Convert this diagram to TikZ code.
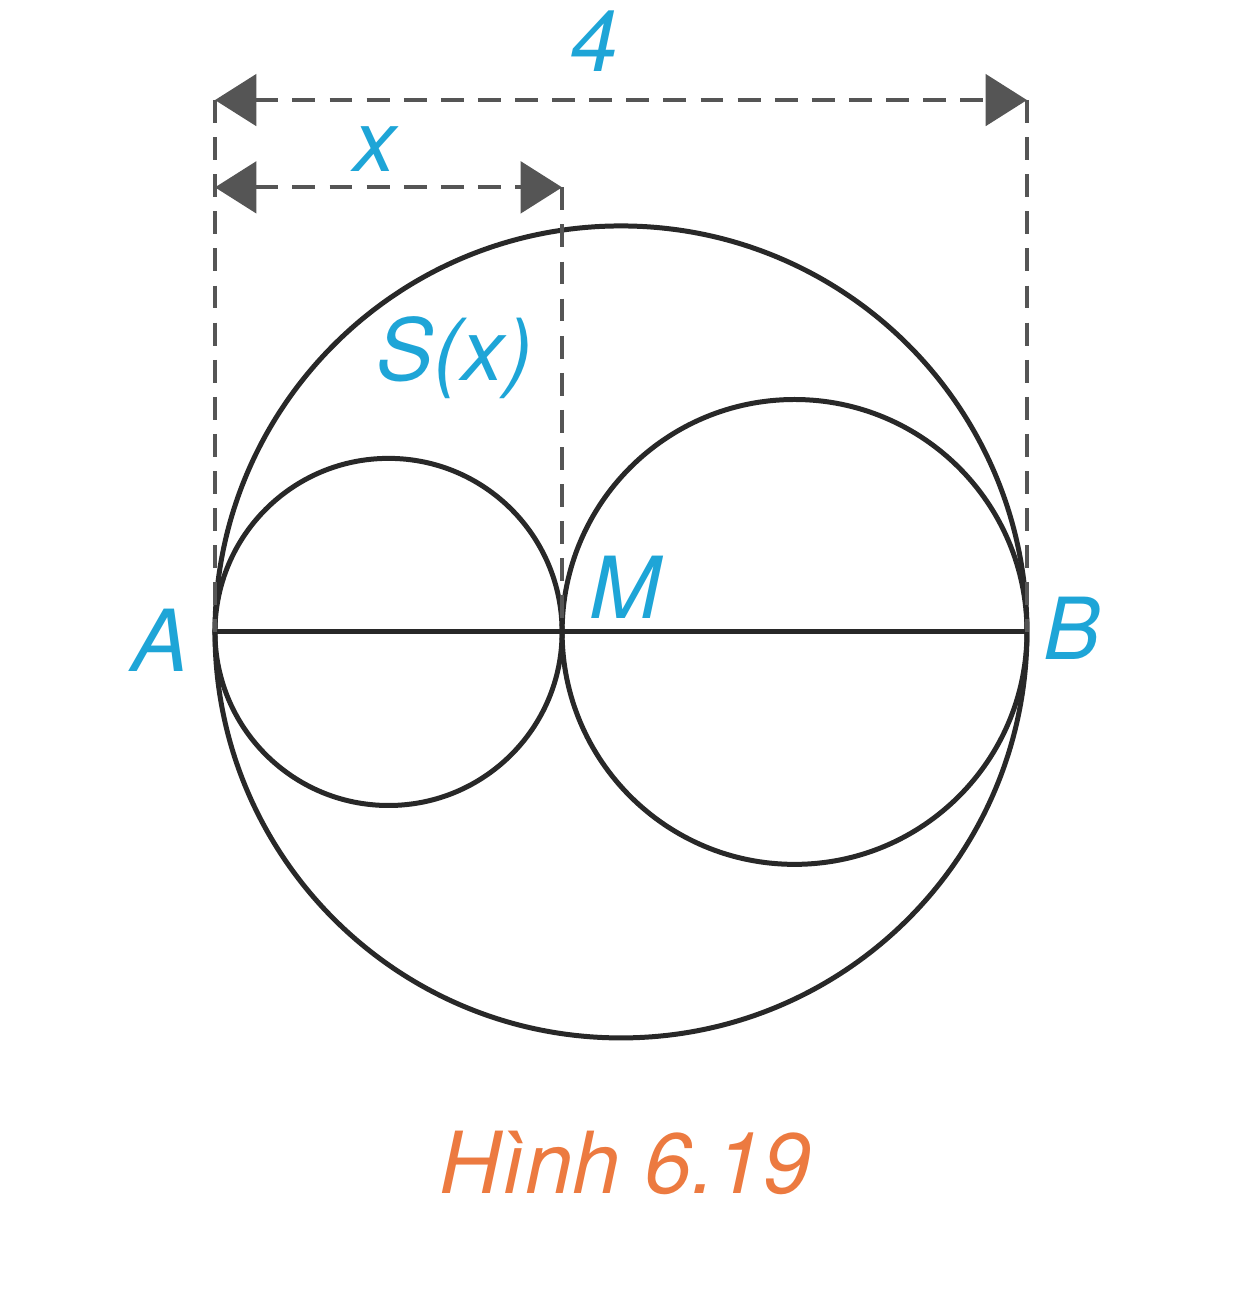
\documentclass[tikz,border=0pt]{standalone}
\usepackage{fontspec}
\setmainfont{TeX Gyre Heros}
\usepackage{tikz}
\usetikzlibrary{calc}
\usetikzlibrary{arrows.meta}
\definecolor{labelblue}{RGB}{30,165,215}
\definecolor{captionorange}{RGB}{236,122,64}
\definecolor{linegray}{RGB}{40,40,40}
\definecolor{dashgray}{RGB}{85,85,85}
\newcommand{\ptlabel}[4]{\node[text=labelblue,inner sep=0pt,font=\fontsize{12}{14}\selectfont\itshape] (#1) at ( #2 , #3 ) {#4};}
\newcommand{\dimline}[2]{\draw[dashgray,line width=0.55pt,dash pattern=on 3.2pt off 2pt,{Triangle[length=5.8pt,width=7.2pt]}-{Triangle[length=5.8pt,width=7.2pt]}] (#1) -- (#2);}

\begin{document}
\begin{tikzpicture}
        \useasboundingbox (-1.059,-3.291) rectangle (5.099,3.113);
        % points
        \coordinate (A) at (0,0);
        \coordinate (B) at (4,0);
        \coordinate (M) at (1.71,0);
        \coordinate (A4) at (0,2.62);
        \coordinate (B4) at (4,2.62);
        \coordinate (Ax) at (0,2.19);
        \coordinate (Mx) at (1.71,2.19);

        % circles
        \draw[linegray,line width=0.7pt] ($(A)!0.5!(B)$) circle (2);
        \draw[linegray,line width=0.7pt] ($(A)!0.5!(M)$) circle (0.855);
        \draw[linegray,line width=0.7pt] ($(M)!0.5!(B)$) circle (1.145);
        \draw[linegray,line width=0.7pt] (A) -- (B);

        % guide lines
        \draw[dashgray,line width=0.55pt,dash pattern=on 3.2pt off 2pt] (A4) -- (A);
        \draw[dashgray,line width=0.55pt,dash pattern=on 3.2pt off 2pt] (B4) -- (B);
        \draw[dashgray,line width=0.55pt,dash pattern=on 3.2pt off 2pt] (Mx) -- (M);

        % dimensions
        \dimline{A4}{B4}
        \dimline{Ax}{Mx}

        \ptlabel{lfour}{1.87}{2.91}{4}
        \ptlabel{lx}{0.79}{2.38}{x}
        \ptlabel{lS}{1.18}{1.35}{S(x)}
        \ptlabel{lM}{2.02}{0.22}{M}
        \ptlabel{lA}{-0.27}{-0.04}{A}
        \ptlabel{lB}{4.22}{0.02}{B}

        \node[text=captionorange,inner sep=0pt,font=\fontsize{12}{14}\selectfont\itshape] (caption) at (2.02,-2.616) {Hình 6.19};
    \end{tikzpicture}
\end{document}
